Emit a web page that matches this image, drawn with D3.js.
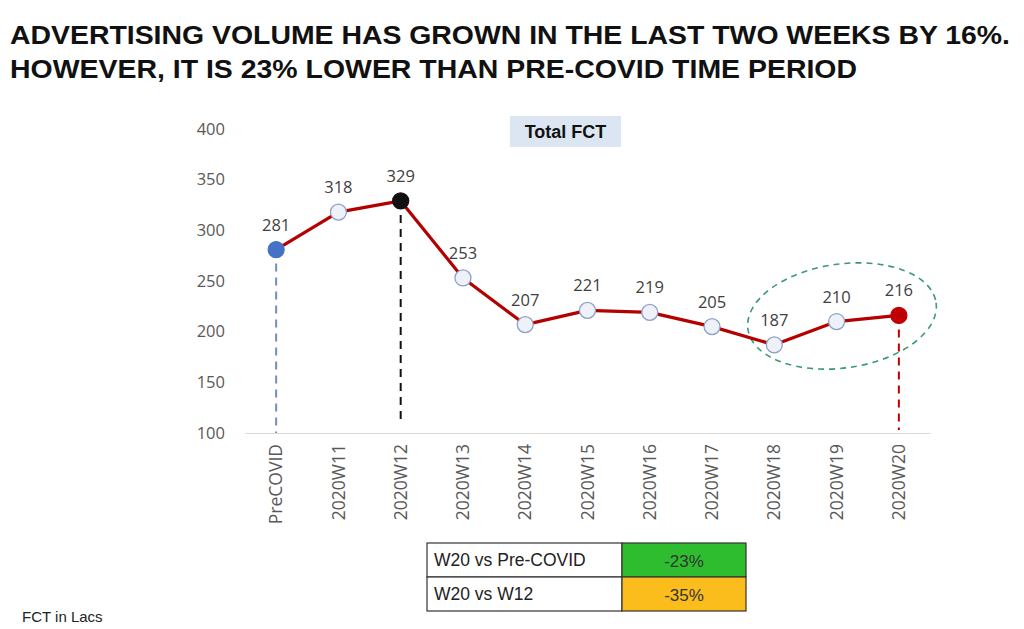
<!DOCTYPE html>
<html><head><meta charset="utf-8">
<script src="https://cdn.jsdelivr.net/npm/d3@7"></script>
<style>body{margin:0;background:#fff}svg{display:block}</style>
</head><body>
<svg id="c" width="1024" height="629"></svg>
<script>
const categories = ["PreCOVID","2020W11","2020W12","2020W13","2020W14","2020W15","2020W16","2020W17","2020W18","2020W19","2020W20"];
const values = [281,318,329,253,207,221,219,205,187,210,216];
const yTicks = [100,150,200,250,300,350,400];
const titleLines = ["ADVERTISING VOLUME HAS GROWN IN THE LAST TWO WEEKS BY 16%.","HOWEVER, IT IS 23% LOWER THAN PRE-COVID TIME PERIOD"];
const tableRows = ["W20 vs Pre-COVID","W20 vs W12"];
const tableValues = ["-23%","-35%"];

const svg = d3.select("#c");
const x = d3.scaleBand().domain(categories).range([245,930]);
const y = d3.scaleLinear().domain([100,400]).range([433,129]);
const cx = d => x(d) + x.bandwidth()/2;

// title
svg.selectAll("text.title").data(titleLines).join("text")
  .attr("x",10).attr("y",(d,i)=>44+i*34)
  .attr("font-family","'Liberation Sans Narrow','Liberation Sans',Arial,sans-serif")
  .attr("font-weight","bold").attr("font-size",26).attr("fill","#111")
  .attr("textLength",(d,i)=>i===0?1000:847).attr("lengthAdjust","spacingAndGlyphs")
  .text(d=>d);

// chart title box
svg.append("rect").attr("x",510).attr("y",116).attr("width",111).attr("height",31).attr("fill","#dce6f2");
svg.append("text").attr("x",565.5).attr("y",138).attr("text-anchor","middle")
  .attr("font-family","'Liberation Sans',Arial,sans-serif").attr("font-weight","bold")
  .attr("font-size",18).attr("fill","#111").text("Total FCT");

// y axis labels
const yAxis = d3.axisLeft(y).tickValues(yTicks).tickSize(0).tickPadding(0);
const gy = svg.append("g").attr("transform","translate(225,0)").call(yAxis);
gy.select(".domain").remove();
gy.selectAll("text").attr("font-family","'Open Sans','Liberation Sans',sans-serif")
  .attr("font-size",16.5).attr("fill","#595959");

// x axis
const xAxis = d3.axisBottom(x).tickSize(0).tickPadding(0);
const gx = svg.append("g").attr("transform","translate(0,433)").call(xAxis);
gx.select(".domain").attr("stroke","#d9d9d9").attr("stroke-width",1.2);
gx.selectAll("text").attr("font-family","'Open Sans','Liberation Sans',sans-serif")
  .attr("font-size",17.5).attr("fill","#595959")
  .attr("transform","rotate(-90)").attr("text-anchor","end")
  .attr("x",-11).attr("y",0).attr("dy","0.35em");

// dashed vertical lines
const vlines = [
  {i:0, color:"#6f8fb8", bottom:433},
  {i:2, color:"#111111", bottom:425},
  {i:10, color:"#c00000", bottom:430}
];
svg.selectAll("line.v").data(vlines).join("line")
  .attr("x1",d=>cx(categories[d.i])).attr("x2",d=>cx(categories[d.i]))
  .attr("y1",d=>y(values[d.i])).attr("y2",d=>d.bottom)
  .attr("stroke",d=>d.color).attr("stroke-width",2).attr("stroke-dasharray","8,6");

// ellipse
svg.append("ellipse").attr("cx",842).attr("cy",316).attr("rx",95).attr("ry",52)
  .attr("transform","rotate(-8,842,316)")
  .attr("fill","none").attr("stroke","#3c9a70").attr("stroke-width",1.6).attr("stroke-dasharray","6,5");

// line
const line = d3.line().x((d,i)=>cx(categories[i])).y(d=>y(d));
svg.append("path").datum(values).attr("d",line).attr("fill","none")
  .attr("stroke","#b50000").attr("stroke-width",3.2).attr("stroke-linejoin","round");

// markers
const special = {0:"#4472c4",2:"#111111",10:"#c00000"};
svg.selectAll("circle.pt").data(values).join("circle")
  .attr("cx",(d,i)=>cx(categories[i])).attr("cy",d=>y(d)).attr("r",8)
  .attr("fill",(d,i)=>special[i]||"#eef1f7")
  .attr("stroke",(d,i)=>special[i]?special[i]:"#8ea2c6").attr("stroke-width",1.3);

// data labels
svg.selectAll("text.lbl").data(values).join("text")
  .attr("x",(d,i)=>cx(categories[i])).attr("y",d=>y(d)-19)
  .attr("text-anchor","middle").attr("font-family","'Open Sans','Liberation Sans',sans-serif")
  .attr("font-size",16.5).attr("fill","#404040").text(d=>d);

// table
const tx0=427, tx1=622, tx2=746, ty0=543, rh=34;
const fills=["#2ebd2e","#fbbd1c"];
tableRows.forEach((r,i)=>{
  svg.append("rect").attr("x",tx0).attr("y",ty0+i*rh).attr("width",tx1-tx0).attr("height",rh)
    .attr("fill","#fff").attr("stroke","#333").attr("stroke-width",1.2);
  svg.append("rect").attr("x",tx1).attr("y",ty0+i*rh).attr("width",tx2-tx1).attr("height",rh)
    .attr("fill",fills[i]).attr("stroke","#333").attr("stroke-width",1.2);
  svg.append("text").attr("x",tx0+7).attr("y",ty0+i*rh+23)
    .attr("font-family","'Liberation Sans',Arial,sans-serif").attr("font-size",17.5).attr("fill","#222").text(r);
  svg.append("text").attr("x",(tx1+tx2)/2).attr("y",ty0+i*rh+24).attr("text-anchor","middle")
    .attr("font-family","'Liberation Sans',Arial,sans-serif").attr("font-size",17).attr("fill","#333").text(tableValues[i]);
});

// footnote
svg.append("text").attr("x",22).attr("y",622)
  .attr("font-family","'Liberation Sans',Arial,sans-serif").attr("font-size",15).attr("fill","#222").text("FCT in Lacs");
</script>
</body></html>
